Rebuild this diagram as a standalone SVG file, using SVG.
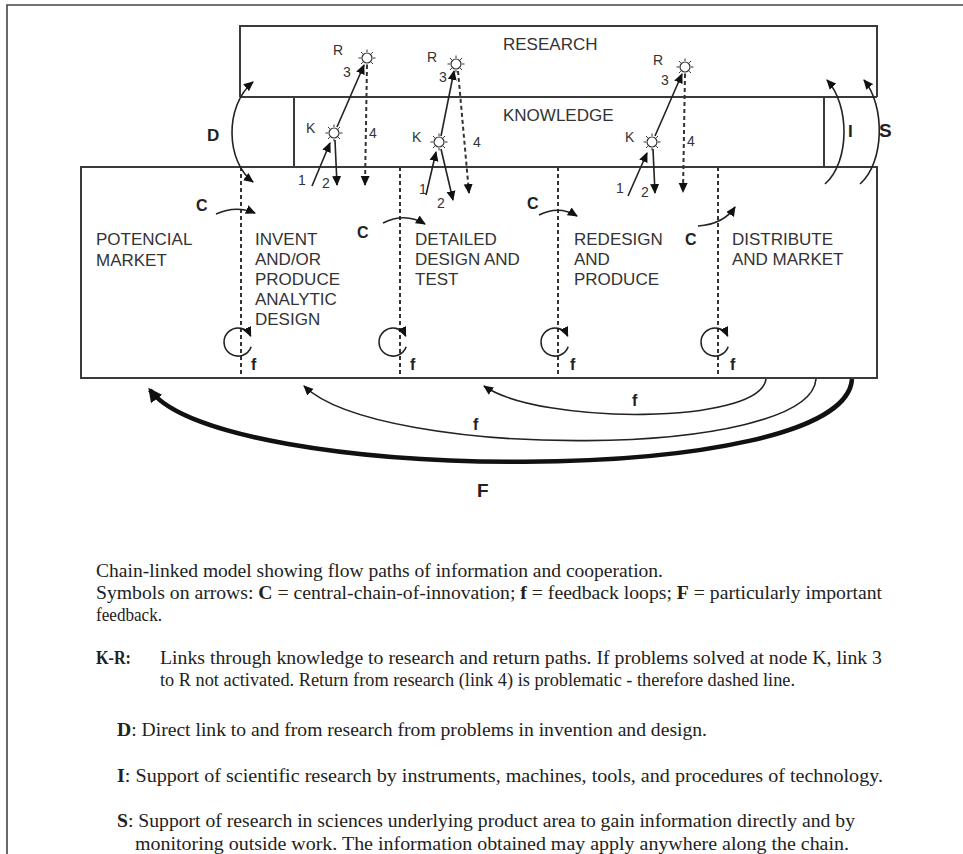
<svg xmlns="http://www.w3.org/2000/svg" width="963" height="854" viewBox="0 0 963 854">
<defs>
<style>
.box{fill:none;stroke:#3a3a3a;stroke-width:2}
.dash{fill:none;stroke:#333;stroke-width:2;stroke-dasharray:4,3}
.ln{fill:none;stroke:#222;stroke-width:1.6}
.lab{font-family:"Liberation Sans",Arial,sans-serif;font-size:17px;fill:#333}
.sm{font-family:"Liberation Sans",Arial,sans-serif;font-size:14px;fill:#333}
.bl{font-family:"Liberation Sans",Arial,sans-serif;font-size:17px;font-weight:bold;fill:#222}
.cap{font-family:"Liberation Serif","Times New Roman",serif;font-size:19px;fill:#222}
.capb{font-weight:bold}
.sun{fill:#fff;stroke:#333;stroke-width:1.2}
</style>
<marker id="ah" viewBox="0 0 10 10" refX="9" refY="5" markerWidth="10" markerHeight="10" markerUnits="userSpaceOnUse" orient="auto-start-reverse"><path d="M0,0.5 L10,5 L0,9.5 z" fill="#111"/></marker>
<marker id="ahb" viewBox="0 0 10 10" refX="8" refY="5" markerWidth="14" markerHeight="14" markerUnits="userSpaceOnUse" orient="auto"><path d="M0,0 L10,5 L0,10 z" fill="#111"/></marker>
<g id="sunshape"><circle r="5" class="sun"/><path d="M0,-6V-8.5M0,6V8.5M-6,0H-8.5M6,0H8.5M4.2,-4.2L6,-6M-4.2,-4.2L-6,-6M4.2,4.2L6,6M-4.2,4.2L-6,6" stroke="#333" stroke-width="1"/></g>
</defs>
<rect width="963" height="854" fill="#fff"/>
<path d="M7,854 V5 H963" fill="none" stroke="#444" stroke-width="1.6"/>

<g id="research">
<path class="box" d="M240,97 V26 H877 V97"/>
<text class="lab" x="503" y="50">RESEARCH</text>
</g>
<g id="knowledge">
<path class="box" d="M240,97 H877"/>
<path class="box" d="M294,167 V97"/>
<path class="box" d="M824,167 V97"/>
<text class="lab" x="503" y="121">KNOWLEDGE</text>
</g>
<g id="chain">
<rect class="box" x="81" y="167" width="796" height="211"/>
</g>
<g id="potencial-market">
<text class="lab" x="96" y="245">POTENCIAL</text>
<text class="lab" x="96" y="266">MARKET</text>
</g>
<g id="invent">
<text class="lab" x="255" y="245">INVENT</text>
<text class="lab" x="255" y="265">AND/OR</text>
<text class="lab" x="255" y="285">PRODUCE</text>
<text class="lab" x="255" y="305">ANALYTIC</text>
<text class="lab" x="255" y="325">DESIGN</text>
</g>
<g id="detailed">
<text class="lab" x="415" y="245">DETAILED</text>
<text class="lab" x="415" y="265">DESIGN AND</text>
<text class="lab" x="415" y="285">TEST</text>
</g>
<g id="redesign">
<text class="lab" x="574" y="245">REDESIGN</text>
<text class="lab" x="574" y="265">AND</text>
<text class="lab" x="574" y="285">PRODUCE</text>
</g>
<g id="distribute">
<text class="lab" x="732" y="245">DISTRIBUTE</text>
<text class="lab" x="732" y="265">AND MARKET</text>
</g>

<g id="kr-nodes">
<use href="#sunshape" x="367" y="58"/>
<use href="#sunshape" x="334" y="133"/>
<use href="#sunshape" x="456" y="64"/>
<use href="#sunshape" x="439" y="142"/>
<use href="#sunshape" x="685" y="67"/>
<use href="#sunshape" x="652" y="142"/>
</g>

<g id="connectors">
<path class="dash" d="M241,167 V378 M400,167 V378 M558,167 V378 M718,167 V378"/>
<path class="ln" d="M312,186 L330,143" marker-end="url(#ah)"/>
<path class="ln" d="M335,140 L337,185" marker-end="url(#ah)"/>
<path class="ln" d="M337,127 L364,65" marker-end="url(#ah)"/>
<path class="dash" d="M367,65 L365,185" stroke-width="1.8" marker-end="url(#ah)"/>
<path class="ln" d="M426,195 L436,152" marker-end="url(#ah)"/>
<path class="ln" d="M441,149 L453,200" marker-end="url(#ah)"/>
<path class="ln" d="M441,136 L454,71" marker-end="url(#ah)"/>
<path class="dash" d="M458,71 L469,193" stroke-width="1.8" marker-end="url(#ah)"/>
<path class="ln" d="M628,196 L647,153" marker-end="url(#ah)"/>
<path class="ln" d="M653,149 L655,193" marker-end="url(#ah)"/>
<path class="ln" d="M655,136 L682,74" marker-end="url(#ah)"/>
<path class="dash" d="M685,74 L683,192" stroke-width="1.8" marker-end="url(#ah)"/>
<path class="ln" d="M253,182 C226,162 224,106 253,82" marker-start="url(#ah)" marker-end="url(#ah)"/>
<path class="ln" d="M825,184 C850,162 850,105 827,80" marker-end="url(#ah)"/>
<path class="ln" d="M860,184 C885,162 885,105 864,80" marker-end="url(#ah)"/>
<path class="ln" d="M216,214 Q236,205 255,213" marker-end="url(#ah)"/>
<path class="ln" d="M383,223 Q405,212 425,224" marker-end="url(#ah)"/>
<path class="ln" d="M539,215 Q559,205 577,216" marker-end="url(#ah)"/>
<path class="ln" d="M698,226 Q724,224 735,207" marker-end="url(#ah)"/>
<path class="ln" d="M251.2,346.8 A14,14 0 1 1 250.7,336.1" marker-end="url(#ah)"/>
<path class="ln" d="M406.2,346.8 A14,14 0 1 1 405.7,336.1" marker-end="url(#ah)"/>
<path class="ln" d="M568.2,346.8 A14,14 0 1 1 567.7,336.1" marker-end="url(#ah)"/>
<path class="ln" d="M728.2,346.8 A14,14 0 1 1 727.7,336.1" marker-end="url(#ah)"/>
<path class="ln" d="M766,379 C760,425 540,425 484,386" marker-end="url(#ah)"/>
<path class="ln" d="M816,379 C810,460 380,460 304,386" marker-end="url(#ah)"/>
<path fill="none" stroke="#111" stroke-width="4.5" d="M852,379 C845,490 220,485 150,390" marker-end="url(#ahb)"/>
</g>

<g id="connector-labels">
<text class="sm" x="333" y="55">R</text>
<text class="sm" x="343" y="77">3</text>
<text class="sm" x="306" y="133">K</text>
<text class="sm" x="369" y="138">4</text>
<text class="sm" x="298" y="185">1</text>
<text class="sm" x="322" y="188">2</text>
<text class="sm" x="427" y="62">R</text>
<text class="sm" x="439" y="82">3</text>
<text class="sm" x="412" y="142">K</text>
<text class="sm" x="473" y="147">4</text>
<text class="sm" x="419" y="194">1</text>
<text class="sm" x="437" y="208">2</text>
<text class="sm" x="653" y="65">R</text>
<text class="sm" x="661" y="85">3</text>
<text class="sm" x="625" y="142">K</text>
<text class="sm" x="687" y="146">4</text>
<text class="sm" x="616" y="193">1</text>
<text class="sm" x="641" y="197">2</text>
<text class="bl" x="207" y="141">D</text>
<text class="bl" x="848" y="137">I</text>
<text class="bl" x="879" y="137" style="font-size:19px">S</text>
<text class="bl" x="196" y="211" style="font-size:16px">C</text>
<text class="bl" x="357" y="238" style="font-size:16px">C</text>
<text class="bl" x="527" y="209" style="font-size:16px">C</text>
<text class="bl" x="685" y="245" style="font-size:16px">C</text>
<text class="bl" x="251" y="370" style="font-size:16px">f</text>
<text class="bl" x="410" y="370" style="font-size:16px">f</text>
<text class="bl" x="570" y="370" style="font-size:16px">f</text>
<text class="bl" x="730" y="370" style="font-size:16px">f</text>
<text class="bl" x="632" y="406" style="font-size:16px">f</text>
<text class="bl" x="473" y="430" style="font-size:16px">f</text>
<text class="bl" x="477" y="497" style="font-size:19px">F</text>
</g>

<g id="caption">
<text class="cap" x="96" y="577" textLength="567" lengthAdjust="spacingAndGlyphs">Chain-linked model showing flow paths of information and cooperation.</text>
<text class="cap" x="96" y="599" textLength="786" lengthAdjust="spacingAndGlyphs">Symbols on arrows: <tspan class="capb">C</tspan> = central-chain-of-innovation; <tspan class="capb">f</tspan> = feedback loops; <tspan class="capb">F</tspan> = particularly important</text>
<text class="cap" x="96" y="621" textLength="66" lengthAdjust="spacingAndGlyphs">feedback.</text>
<text class="cap capb" x="96" y="664" textLength="35" lengthAdjust="spacingAndGlyphs">K-R:</text>
<text class="cap" x="160" y="664" textLength="722" lengthAdjust="spacingAndGlyphs">Links through knowledge to research and return paths. If problems solved at node K, link 3</text>
<text class="cap" x="160" y="686" textLength="635" lengthAdjust="spacingAndGlyphs">to R not activated. Return from research (link 4) is problematic - therefore dashed line.</text>
<text class="cap" x="117" y="736" textLength="590" lengthAdjust="spacingAndGlyphs"><tspan class="capb">D</tspan>: Direct link to and from research from problems in invention and design.</text>
<text class="cap" x="117" y="782" textLength="766" lengthAdjust="spacingAndGlyphs"><tspan class="capb">I</tspan>: Support of scientific research by instruments, machines, tools, and procedures of technology.</text>
<text class="cap" x="117" y="827" textLength="738" lengthAdjust="spacingAndGlyphs"><tspan class="capb">S</tspan>: Support of research in sciences underlying product area to gain information directly and by</text>
<text class="cap" x="135" y="850" textLength="714" lengthAdjust="spacingAndGlyphs">monitoring outside work. The information obtained may apply anywhere along the chain.</text>
</g>
</svg>
